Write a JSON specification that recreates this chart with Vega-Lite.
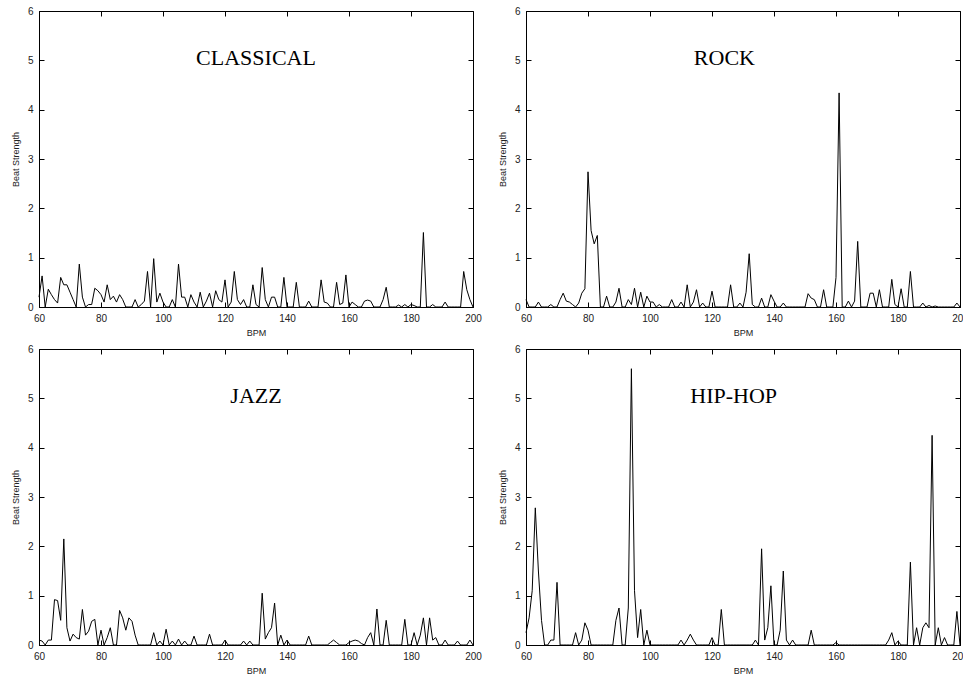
{
  "$schema": "https://vega.github.io/schema/vega-lite/v6.json",
  "background": "white",
  "padding": {"left": 10, "top": 5, "right": 0, "bottom": 5},
  "config": {
    "view": {"stroke": "black", "strokeWidth": 1},
    "axis": {
      "grid": false,
      "labelFont": "Liberation Sans",
      "labelFontSize": 10,
      "labelColor": "#222",
      "labelFlush": false,
      "labelOverlap": false,
      "titleFont": "Liberation Sans",
      "titleFontSize": 9,
      "titleFontWeight": "normal",
      "titleColor": "#222",
      "domainColor": "black",
      "tickColor": "black",
      "tickSize": -5
    },
    "axisX": {"labelPadding": 11, "titlePadding": 5},
    "axisY": {"labelPadding": 11, "titlePadding": 7}
  },
  "datasets": {
    "classical": [
      {"bpm":60,"s":0.2},{"bpm":61,"s":0.63},{"bpm":62,"s":0},{"bpm":63,"s":0.36},{"bpm":64,"s":0.25},{"bpm":65,"s":0.15},{"bpm":66,"s":0.08},{"bpm":67,"s":0.6},{"bpm":68,"s":0.45},{"bpm":69,"s":0.45},
      {"bpm":70,"s":0.3},{"bpm":71,"s":0.15},{"bpm":72,"s":0},{"bpm":73,"s":0.87},{"bpm":74,"s":0.2},{"bpm":75,"s":0},{"bpm":76,"s":0.05},{"bpm":77,"s":0.05},{"bpm":78,"s":0.38},{"bpm":79,"s":0.33},
      {"bpm":80,"s":0.25},{"bpm":81,"s":0.1},{"bpm":82,"s":0.45},{"bpm":83,"s":0.15},{"bpm":84,"s":0.22},{"bpm":85,"s":0.1},{"bpm":86,"s":0.25},{"bpm":87,"s":0.15},{"bpm":88,"s":0},{"bpm":89,"s":0},
      {"bpm":90,"s":0},{"bpm":91,"s":0.15},{"bpm":92,"s":0},{"bpm":93,"s":0.05},{"bpm":94,"s":0.12},{"bpm":95,"s":0.72},{"bpm":96,"s":0},{"bpm":97,"s":0.98},{"bpm":98,"s":0.1},{"bpm":99,"s":0.28},
      {"bpm":100,"s":0.1},{"bpm":101,"s":0},{"bpm":102,"s":0},{"bpm":103,"s":0.15},{"bpm":104,"s":0},{"bpm":105,"s":0.87},{"bpm":106,"s":0.2},{"bpm":107,"s":0.2},{"bpm":108,"s":0},{"bpm":109,"s":0.25},
      {"bpm":110,"s":0.1},{"bpm":111,"s":0},{"bpm":112,"s":0.3},{"bpm":113,"s":0},{"bpm":114,"s":0.12},{"bpm":115,"s":0.28},{"bpm":116,"s":0},{"bpm":117,"s":0.33},{"bpm":118,"s":0.15},{"bpm":119,"s":0.1},
      {"bpm":120,"s":0.55},{"bpm":121,"s":0},{"bpm":122,"s":0.1},{"bpm":123,"s":0.72},{"bpm":124,"s":0.15},{"bpm":125,"s":0.05},{"bpm":126,"s":0.15},{"bpm":127,"s":0},{"bpm":128,"s":0},{"bpm":129,"s":0.45},
      {"bpm":130,"s":0.05},{"bpm":131,"s":0},{"bpm":132,"s":0.8},{"bpm":133,"s":0.15},{"bpm":134,"s":0},{"bpm":135,"s":0.2},{"bpm":136,"s":0.2},{"bpm":137,"s":0},{"bpm":138,"s":0},{"bpm":139,"s":0.6},
      {"bpm":140,"s":0},{"bpm":141,"s":0},{"bpm":142,"s":0},{"bpm":143,"s":0.5},{"bpm":144,"s":0},{"bpm":145,"s":0},{"bpm":146,"s":0},{"bpm":147,"s":0.12},{"bpm":148,"s":0},{"bpm":149,"s":0},
      {"bpm":150,"s":0},{"bpm":151,"s":0.55},{"bpm":152,"s":0.1},{"bpm":153,"s":0.08},{"bpm":154,"s":0},{"bpm":155,"s":0},{"bpm":156,"s":0.5},{"bpm":157,"s":0.05},{"bpm":158,"s":0.08},{"bpm":159,"s":0.65},
      {"bpm":160,"s":0},{"bpm":161,"s":0.1},{"bpm":162,"s":0.05},{"bpm":163,"s":0},{"bpm":164,"s":0},{"bpm":165,"s":0.12},{"bpm":166,"s":0.14},{"bpm":167,"s":0.12},{"bpm":168,"s":0},{"bpm":169,"s":0},
      {"bpm":170,"s":0},{"bpm":171,"s":0.15},{"bpm":172,"s":0.4},{"bpm":173,"s":0},{"bpm":174,"s":0},{"bpm":175,"s":0},{"bpm":176,"s":0.04},{"bpm":177,"s":0},{"bpm":178,"s":0.05},{"bpm":179,"s":0},
      {"bpm":180,"s":0.05},{"bpm":181,"s":0.03},{"bpm":182,"s":0},{"bpm":183,"s":0},{"bpm":184,"s":1.51},{"bpm":185,"s":0},{"bpm":186,"s":0},{"bpm":187,"s":0.05},{"bpm":188,"s":0},{"bpm":189,"s":0},
      {"bpm":190,"s":0},{"bpm":191,"s":0.1},{"bpm":192,"s":0},{"bpm":193,"s":0},{"bpm":194,"s":0},{"bpm":195,"s":0},{"bpm":196,"s":0},{"bpm":197,"s":0.72},{"bpm":198,"s":0.35},{"bpm":199,"s":0.15},
      {"bpm":200,"s":0}
    ],
    "rock": [
      {"bpm":60,"s":0.15},{"bpm":61,"s":0},{"bpm":62,"s":0},{"bpm":63,"s":0},{"bpm":64,"s":0.1},{"bpm":65,"s":0},{"bpm":66,"s":0},{"bpm":67,"s":0},{"bpm":68,"s":0.05},{"bpm":69,"s":0},
      {"bpm":70,"s":0},{"bpm":71,"s":0.15},{"bpm":72,"s":0.28},{"bpm":73,"s":0.12},{"bpm":74,"s":0.1},{"bpm":75,"s":0.05},{"bpm":76,"s":0},{"bpm":77,"s":0.08},{"bpm":78,"s":0.28},{"bpm":79,"s":0.37},
      {"bpm":80,"s":2.74},{"bpm":81,"s":1.55},{"bpm":82,"s":1.28},{"bpm":83,"s":1.45},{"bpm":84,"s":0},{"bpm":85,"s":0},{"bpm":86,"s":0.22},{"bpm":87,"s":0},{"bpm":88,"s":0},{"bpm":89,"s":0.1},
      {"bpm":90,"s":0.38},{"bpm":91,"s":0},{"bpm":92,"s":0},{"bpm":93,"s":0.15},{"bpm":94,"s":0.05},{"bpm":95,"s":0.38},{"bpm":96,"s":0},{"bpm":97,"s":0.3},{"bpm":98,"s":0},{"bpm":99,"s":0.22},
      {"bpm":100,"s":0.1},{"bpm":101,"s":0.1},{"bpm":102,"s":0},{"bpm":103,"s":0.05},{"bpm":104,"s":0},{"bpm":105,"s":0},{"bpm":106,"s":0},{"bpm":107,"s":0.15},{"bpm":108,"s":0},{"bpm":109,"s":0},
      {"bpm":110,"s":0.1},{"bpm":111,"s":0},{"bpm":112,"s":0.45},{"bpm":113,"s":0},{"bpm":114,"s":0.1},{"bpm":115,"s":0.35},{"bpm":116,"s":0},{"bpm":117,"s":0.08},{"bpm":118,"s":0},{"bpm":119,"s":0},
      {"bpm":120,"s":0.32},{"bpm":121,"s":0},{"bpm":122,"s":0},{"bpm":123,"s":0},{"bpm":124,"s":0},{"bpm":125,"s":0},{"bpm":126,"s":0.45},{"bpm":127,"s":0},{"bpm":128,"s":0},{"bpm":129,"s":0.08},
      {"bpm":130,"s":0},{"bpm":131,"s":0.3},{"bpm":132,"s":1.08},{"bpm":133,"s":0.05},{"bpm":134,"s":0},{"bpm":135,"s":0},{"bpm":136,"s":0.18},{"bpm":137,"s":0},{"bpm":138,"s":0},{"bpm":139,"s":0.25},
      {"bpm":140,"s":0.12},{"bpm":141,"s":0},{"bpm":142,"s":0},{"bpm":143,"s":0.08},{"bpm":144,"s":0},{"bpm":145,"s":0},{"bpm":146,"s":0},{"bpm":147,"s":0},{"bpm":148,"s":0},{"bpm":149,"s":0},
      {"bpm":150,"s":0},{"bpm":151,"s":0.27},{"bpm":152,"s":0.18},{"bpm":153,"s":0.15},{"bpm":154,"s":0},{"bpm":155,"s":0},{"bpm":156,"s":0.35},{"bpm":157,"s":0},{"bpm":158,"s":0},{"bpm":159,"s":0},
      {"bpm":160,"s":0.6},{"bpm":161,"s":4.34},{"bpm":162,"s":0},{"bpm":163,"s":0},{"bpm":164,"s":0.12},{"bpm":165,"s":0},{"bpm":166,"s":0.12},{"bpm":167,"s":1.33},{"bpm":168,"s":0},{"bpm":169,"s":0},
      {"bpm":170,"s":0},{"bpm":171,"s":0.28},{"bpm":172,"s":0.28},{"bpm":173,"s":0},{"bpm":174,"s":0.35},{"bpm":175,"s":0},{"bpm":176,"s":0},{"bpm":177,"s":0},{"bpm":178,"s":0.56},{"bpm":179,"s":0.05},
      {"bpm":180,"s":0},{"bpm":181,"s":0.37},{"bpm":182,"s":0},{"bpm":183,"s":0},{"bpm":184,"s":0.72},{"bpm":185,"s":0},{"bpm":186,"s":0},{"bpm":187,"s":0},{"bpm":188,"s":0.08},{"bpm":189,"s":0},
      {"bpm":190,"s":0.03},{"bpm":191,"s":0},{"bpm":192,"s":0.02},{"bpm":193,"s":0},{"bpm":194,"s":0},{"bpm":195,"s":0},{"bpm":196,"s":0},{"bpm":197,"s":0},{"bpm":198,"s":0},{"bpm":199,"s":0.08},
      {"bpm":200,"s":0}
    ],
    "jazz": [
      {"bpm":60,"s":0.1},{"bpm":61,"s":0.08},{"bpm":62,"s":0},{"bpm":63,"s":0.1},{"bpm":64,"s":0.1},{"bpm":65,"s":0.92},{"bpm":66,"s":0.9},{"bpm":67,"s":0.5},{"bpm":68,"s":2.15},{"bpm":69,"s":0.35},
      {"bpm":70,"s":0.08},{"bpm":71,"s":0.22},{"bpm":72,"s":0.15},{"bpm":73,"s":0.12},{"bpm":74,"s":0.72},{"bpm":75,"s":0.2},{"bpm":76,"s":0.28},{"bpm":77,"s":0.48},{"bpm":78,"s":0.52},{"bpm":79,"s":0},
      {"bpm":80,"s":0.3},{"bpm":81,"s":0},{"bpm":82,"s":0.15},{"bpm":83,"s":0.35},{"bpm":84,"s":0},{"bpm":85,"s":0},{"bpm":86,"s":0.7},{"bpm":87,"s":0.55},{"bpm":88,"s":0.3},{"bpm":89,"s":0.55},
      {"bpm":90,"s":0.48},{"bpm":91,"s":0.2},{"bpm":92,"s":0},{"bpm":93,"s":0},{"bpm":94,"s":0},{"bpm":95,"s":0},{"bpm":96,"s":0},{"bpm":97,"s":0.25},{"bpm":98,"s":0},{"bpm":99,"s":0.08},
      {"bpm":100,"s":0},{"bpm":101,"s":0.32},{"bpm":102,"s":0},{"bpm":103,"s":0.08},{"bpm":104,"s":0},{"bpm":105,"s":0.12},{"bpm":106,"s":0},{"bpm":107,"s":0.08},{"bpm":108,"s":0},{"bpm":109,"s":0},
      {"bpm":110,"s":0.18},{"bpm":111,"s":0},{"bpm":112,"s":0},{"bpm":113,"s":0},{"bpm":114,"s":0},{"bpm":115,"s":0.22},{"bpm":116,"s":0},{"bpm":117,"s":0},{"bpm":118,"s":0},{"bpm":119,"s":0},
      {"bpm":120,"s":0.1},{"bpm":121,"s":0},{"bpm":122,"s":0},{"bpm":123,"s":0},{"bpm":124,"s":0},{"bpm":125,"s":0},{"bpm":126,"s":0.08},{"bpm":127,"s":0},{"bpm":128,"s":0.08},{"bpm":129,"s":0},
      {"bpm":130,"s":0},{"bpm":131,"s":0},{"bpm":132,"s":1.05},{"bpm":133,"s":0.12},{"bpm":134,"s":0.25},{"bpm":135,"s":0.35},{"bpm":136,"s":0.85},{"bpm":137,"s":0},{"bpm":138,"s":0.2},{"bpm":139,"s":0},
      {"bpm":140,"s":0.1},{"bpm":141,"s":0},{"bpm":142,"s":0},{"bpm":143,"s":0},{"bpm":144,"s":0},{"bpm":145,"s":0},{"bpm":146,"s":0},{"bpm":147,"s":0.18},{"bpm":148,"s":0},{"bpm":149,"s":0},
      {"bpm":150,"s":0},{"bpm":151,"s":0},{"bpm":152,"s":0},{"bpm":153,"s":0},{"bpm":154,"s":0.05},{"bpm":155,"s":0.1},{"bpm":156,"s":0.05},{"bpm":157,"s":0},{"bpm":158,"s":0},{"bpm":159,"s":0},
      {"bpm":160,"s":0.05},{"bpm":161,"s":0.08},{"bpm":162,"s":0.1},{"bpm":163,"s":0.08},{"bpm":164,"s":0.03},{"bpm":165,"s":0},{"bpm":166,"s":0.15},{"bpm":167,"s":0.25},{"bpm":168,"s":0},{"bpm":169,"s":0.73},
      {"bpm":170,"s":0},{"bpm":171,"s":0},{"bpm":172,"s":0.5},{"bpm":173,"s":0},{"bpm":174,"s":0},{"bpm":175,"s":0},{"bpm":176,"s":0},{"bpm":177,"s":0},{"bpm":178,"s":0.52},{"bpm":179,"s":0},
      {"bpm":180,"s":0},{"bpm":181,"s":0.25},{"bpm":182,"s":0},{"bpm":183,"s":0.2},{"bpm":184,"s":0.55},{"bpm":185,"s":0},{"bpm":186,"s":0.55},{"bpm":187,"s":0.1},{"bpm":188,"s":0.15},{"bpm":189,"s":0},
      {"bpm":190,"s":0},{"bpm":191,"s":0.1},{"bpm":192,"s":0},{"bpm":193,"s":0},{"bpm":194,"s":0},{"bpm":195,"s":0.08},{"bpm":196,"s":0},{"bpm":197,"s":0},{"bpm":198,"s":0},{"bpm":199,"s":0.1},
      {"bpm":200,"s":0}
    ],
    "hiphop": [
      {"bpm":60,"s":0.25},{"bpm":61,"s":0.55},{"bpm":62,"s":1.1},{"bpm":63,"s":2.78},{"bpm":64,"s":1.5},{"bpm":65,"s":0.5},{"bpm":66,"s":0},{"bpm":67,"s":0},{"bpm":68,"s":0.1},{"bpm":69,"s":0.1},
      {"bpm":70,"s":1.27},{"bpm":71,"s":0},{"bpm":72,"s":0},{"bpm":73,"s":0},{"bpm":74,"s":0},{"bpm":75,"s":0},{"bpm":76,"s":0.25},{"bpm":77,"s":0},{"bpm":78,"s":0.1},{"bpm":79,"s":0.45},
      {"bpm":80,"s":0.3},{"bpm":81,"s":0},{"bpm":82,"s":0},{"bpm":83,"s":0},{"bpm":84,"s":0},{"bpm":85,"s":0},{"bpm":86,"s":0},{"bpm":87,"s":0},{"bpm":88,"s":0},{"bpm":89,"s":0.5},
      {"bpm":90,"s":0.75},{"bpm":91,"s":0},{"bpm":92,"s":0},{"bpm":93,"s":0.75},{"bpm":94,"s":5.6},{"bpm":95,"s":1.1},{"bpm":96,"s":0.15},{"bpm":97,"s":0.72},{"bpm":98,"s":0},{"bpm":99,"s":0.3},
      {"bpm":100,"s":0},{"bpm":101,"s":0},{"bpm":102,"s":0},{"bpm":103,"s":0},{"bpm":104,"s":0},{"bpm":105,"s":0},{"bpm":106,"s":0},{"bpm":107,"s":0},{"bpm":108,"s":0},{"bpm":109,"s":0},
      {"bpm":110,"s":0.1},{"bpm":111,"s":0},{"bpm":112,"s":0.1},{"bpm":113,"s":0.22},{"bpm":114,"s":0.1},{"bpm":115,"s":0},{"bpm":116,"s":0},{"bpm":117,"s":0},{"bpm":118,"s":0},{"bpm":119,"s":0},
      {"bpm":120,"s":0.15},{"bpm":121,"s":0},{"bpm":122,"s":0},{"bpm":123,"s":0.72},{"bpm":124,"s":0},{"bpm":125,"s":0},{"bpm":126,"s":0},{"bpm":127,"s":0},{"bpm":128,"s":0},{"bpm":129,"s":0},
      {"bpm":130,"s":0},{"bpm":131,"s":0},{"bpm":132,"s":0},{"bpm":133,"s":0},{"bpm":134,"s":0.1},{"bpm":135,"s":0},{"bpm":136,"s":1.95},{"bpm":137,"s":0.1},{"bpm":138,"s":0.35},{"bpm":139,"s":1.2},
      {"bpm":140,"s":0},{"bpm":141,"s":0},{"bpm":142,"s":0.3},{"bpm":143,"s":1.5},{"bpm":144,"s":0.1},{"bpm":145,"s":0},{"bpm":146,"s":0.1},{"bpm":147,"s":0},{"bpm":148,"s":0},{"bpm":149,"s":0},
      {"bpm":150,"s":0},{"bpm":151,"s":0},{"bpm":152,"s":0.3},{"bpm":153,"s":0},{"bpm":154,"s":0},{"bpm":155,"s":0},{"bpm":156,"s":0},{"bpm":157,"s":0},{"bpm":158,"s":0},{"bpm":159,"s":0},
      {"bpm":160,"s":0.05},{"bpm":161,"s":0},{"bpm":162,"s":0},{"bpm":163,"s":0},{"bpm":164,"s":0},{"bpm":165,"s":0},{"bpm":166,"s":0},{"bpm":167,"s":0},{"bpm":168,"s":0},{"bpm":169,"s":0},
      {"bpm":170,"s":0},{"bpm":171,"s":0},{"bpm":172,"s":0},{"bpm":173,"s":0},{"bpm":174,"s":0},{"bpm":175,"s":0},{"bpm":176,"s":0},{"bpm":177,"s":0.1},{"bpm":178,"s":0.25},{"bpm":179,"s":0},
      {"bpm":180,"s":0.08},{"bpm":181,"s":0},{"bpm":182,"s":0},{"bpm":183,"s":0},{"bpm":184,"s":1.68},{"bpm":185,"s":0},{"bpm":186,"s":0.35},{"bpm":187,"s":0},{"bpm":188,"s":0.35},{"bpm":189,"s":0.45},
      {"bpm":190,"s":0.35},{"bpm":191,"s":4.25},{"bpm":192,"s":0},{"bpm":193,"s":0.35},{"bpm":194,"s":0},{"bpm":195,"s":0.15},{"bpm":196,"s":0},{"bpm":197,"s":0},{"bpm":198,"s":0},{"bpm":199,"s":0.68},
      {"bpm":200,"s":0}
    ]
  },
  "concat": [
    {
      "width": 434, "height": 296,
      "layer": [
        {"data": {"name": "classical"}, "mark": {"type": "line", "color": "black", "strokeWidth": 1},
         "encoding": {
           "x": {"field": "bpm", "type": "quantitative", "scale": {"domain": [60, 200], "nice": false}, "axis": {"orient": "bottom", "values": [60,80,100,120,140,160,180,200], "title": "BPM"}},
           "y": {"field": "s", "type": "quantitative", "scale": {"domain": [0, 6], "nice": false}, "axis": {"orient": "left", "values": [0,1,2,3,4,5,6], "title": "Beat Strength"}}}},
        {"data": {"values": [{}]}, "mark": {"type": "text", "font": "Liberation Serif", "fontSize": 22, "color": "black", "baseline": "middle", "align": "center"},
         "encoding": {
           "x": {"datum": 130, "type": "quantitative", "axis": {"orient": "top", "values": [60,80,100,120,140,160,180,200], "labels": false, "title": null, "domain": false}},
           "y": {"datum": 5.04, "type": "quantitative", "axis": {"orient": "right", "values": [0,1,2,3,4,5,6], "labels": false, "title": null, "domain": false}},
           "text": {"value": "CLASSICAL"}}}
      ],
      "resolve": {"axis": {"x": "independent", "y": "independent"}}
    },
    {
      "width": 434, "height": 296,
      "layer": [
        {"data": {"name": "rock"}, "mark": {"type": "line", "color": "black", "strokeWidth": 1},
         "encoding": {
           "x": {"field": "bpm", "type": "quantitative", "scale": {"domain": [60, 200], "nice": false}, "axis": {"orient": "bottom", "values": [60,80,100,120,140,160,180,200], "title": "BPM"}},
           "y": {"field": "s", "type": "quantitative", "scale": {"domain": [0, 6], "nice": false}, "axis": {"orient": "left", "values": [0,1,2,3,4,5,6], "title": "Beat Strength"}}}},
        {"data": {"values": [{}]}, "mark": {"type": "text", "font": "Liberation Serif", "fontSize": 22, "color": "black", "baseline": "middle", "align": "center"},
         "encoding": {
           "x": {"datum": 124, "type": "quantitative", "axis": {"orient": "top", "values": [60,80,100,120,140,160,180,200], "labels": false, "title": null, "domain": false}},
           "y": {"datum": 5.04, "type": "quantitative", "axis": {"orient": "right", "values": [0,1,2,3,4,5,6], "labels": false, "title": null, "domain": false}},
           "text": {"value": "ROCK"}}}
      ],
      "resolve": {"axis": {"x": "independent", "y": "independent"}}
    },
    {
      "width": 434, "height": 296,
      "layer": [
        {"data": {"name": "jazz"}, "mark": {"type": "line", "color": "black", "strokeWidth": 1},
         "encoding": {
           "x": {"field": "bpm", "type": "quantitative", "scale": {"domain": [60, 200], "nice": false}, "axis": {"orient": "bottom", "values": [60,80,100,120,140,160,180,200], "title": "BPM"}},
           "y": {"field": "s", "type": "quantitative", "scale": {"domain": [0, 6], "nice": false}, "axis": {"orient": "left", "values": [0,1,2,3,4,5,6], "title": "Beat Strength"}}}},
        {"data": {"values": [{}]}, "mark": {"type": "text", "font": "Liberation Serif", "fontSize": 22, "color": "black", "baseline": "middle", "align": "center"},
         "encoding": {
           "x": {"datum": 130, "type": "quantitative", "axis": {"orient": "top", "values": [60,80,100,120,140,160,180,200], "labels": false, "title": null, "domain": false}},
           "y": {"datum": 5.04, "type": "quantitative", "axis": {"orient": "right", "values": [0,1,2,3,4,5,6], "labels": false, "title": null, "domain": false}},
           "text": {"value": "JAZZ"}}}
      ],
      "resolve": {"axis": {"x": "independent", "y": "independent"}}
    },
    {
      "width": 434, "height": 296,
      "layer": [
        {"data": {"name": "hiphop"}, "mark": {"type": "line", "color": "black", "strokeWidth": 1},
         "encoding": {
           "x": {"field": "bpm", "type": "quantitative", "scale": {"domain": [60, 200], "nice": false}, "axis": {"orient": "bottom", "values": [60,80,100,120,140,160,180,200], "title": "BPM"}},
           "y": {"field": "s", "type": "quantitative", "scale": {"domain": [0, 6], "nice": false}, "axis": {"orient": "left", "values": [0,1,2,3,4,5,6], "title": "Beat Strength"}}}},
        {"data": {"values": [{}]}, "mark": {"type": "text", "font": "Liberation Serif", "fontSize": 22, "color": "black", "baseline": "middle", "align": "center"},
         "encoding": {
           "x": {"datum": 127, "type": "quantitative", "axis": {"orient": "top", "values": [60,80,100,120,140,160,180,200], "labels": false, "title": null, "domain": false}},
           "y": {"datum": 5.04, "type": "quantitative", "axis": {"orient": "right", "values": [0,1,2,3,4,5,6], "labels": false, "title": null, "domain": false}},
           "text": {"value": "HIP-HOP"}}}
      ],
      "resolve": {"axis": {"x": "independent", "y": "independent"}}
    }
  ],
  "columns": 2,
  "spacing": {"row": 42, "column": 53},
  "bounds": "flush"
}
